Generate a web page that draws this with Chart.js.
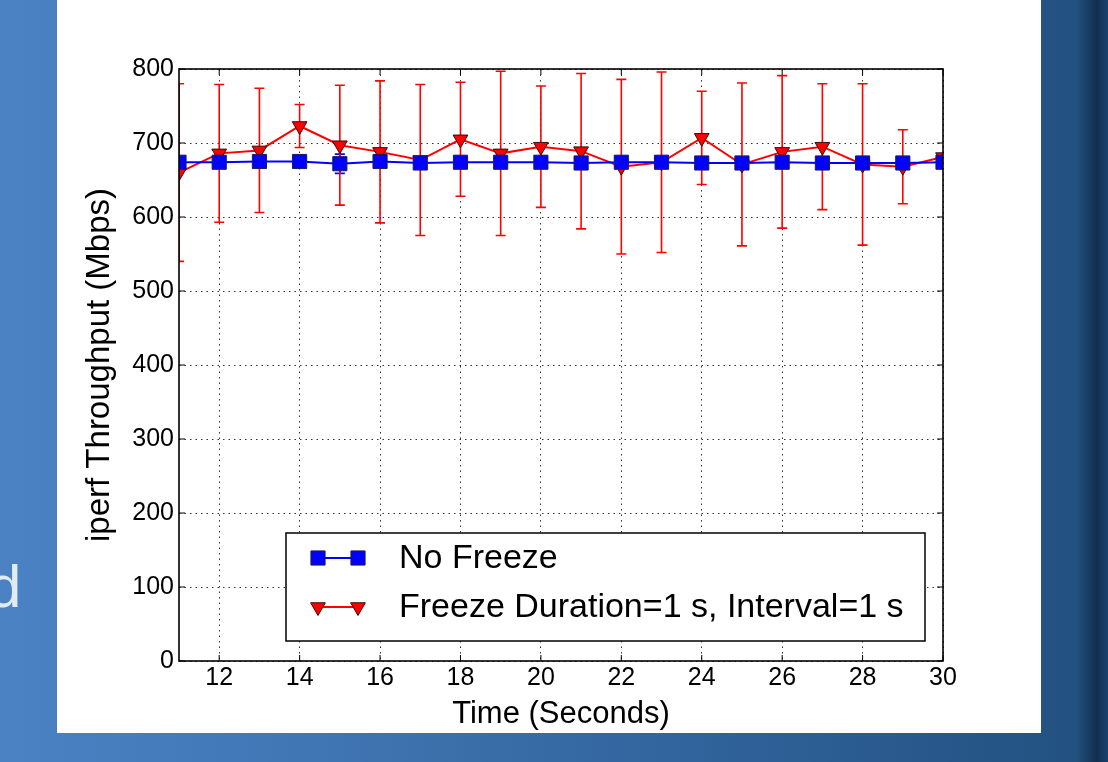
<!DOCTYPE html>
<html>
<head>
<meta charset="utf-8">
<title>iperf Throughput</title>
<script src="https://cdn.jsdelivr.net/npm/chart.js@4.4.0/dist/chart.umd.min.js"></script>
<style>
  html, body { margin: 0; padding: 0; }
  body {
    width: 1108px; height: 762px; overflow: hidden; position: relative;
    background: linear-gradient(to right, #4a82c4 0%, #3f75b2 30%, #30629a 65%, #21507f 100%);
    font-family: "Liberation Sans", Arial, sans-serif;
  }
  #shade {
    position: absolute; left: 1076px; top: 0; width: 32px; height: 762px;
    background: linear-gradient(to right, rgba(8,25,48,0) 0%, rgba(8,25,48,0.6) 65%, rgba(8,25,48,0.25) 100%);
  }
  #slideText { position: absolute; left: -12px; top: 557px; font-size: 60px; line-height: 60px; color: #e2eaf5; }
  #panel { position: absolute; left: 57px; top: 0; width: 984px; height: 733px; background: #fff; }
  #chart { position: absolute; left: 0; top: 0; }
</style>
</head>
<body>
<div id="slideText">d</div>
<div id="shade"></div>
<div id="panel"></div>
<canvas id="chart" width="1108" height="762"></canvas>
<script>
// ==========================
// DATA
// ==========================
const times = [11, 12, 13, 14, 15, 16, 17, 18, 19, 20, 21, 22, 23, 24, 25, 26, 27, 28, 29, 30];
const noFreeze    = [674, 674, 675, 675, 672, 675, 673, 674, 674, 674, 673, 674, 674, 673, 673, 674, 673, 673, 673, 674];
const noFreezeErr = [3, 3, 3, 3, 13, 3, 3, 3, 3, 3, 3, 3, 3, 3, 3, 3, 3, 3, 3, 3];
const freeze      = [660, 686, 690, 723, 697, 688, 677, 705, 686, 695, 689, 668, 674, 707, 671, 688, 695, 671, 668, 681];
const freezeErr   = [120, 93, 84, 29, 81, 96, 102, 77, 111, 82, 105, 118, 122, 63, 110, 103, 85, 109, 50, 0];
const xTicks = [12, 14, 16, 18, 20, 22, 24, 26, 28, 30];
const yTicks = [0, 100, 200, 300, 400, 500, 600, 700, 800];
const seriesLabels = ["No Freeze", "Freeze Duration=1 s, Interval=1 s"];

const FONT = "Liberation Sans";

// ==========================
// PLUGINS
// ==========================
// vertical error bars with caps, under the markers
const errorBars = {
  id: "errorBars",
  beforeDatasetsDraw(chart) {
    const { ctx, chartArea: a, scales: { x, y } } = chart;
    ctx.save();
    ctx.beginPath();
    ctx.rect(a.left, a.top, a.width, a.height);
    ctx.clip();
    chart.data.datasets.forEach(ds => {
      ctx.strokeStyle = ds.borderColor;
      ctx.lineWidth = 1.6;
      ds.data.forEach((p, i) => {
        const e = ds.errors[i];
        if(!e) return;
        const px = x.getPixelForValue(p.x);
        const top = y.getPixelForValue(p.y + e);
        const bot = y.getPixelForValue(p.y - e);
        ctx.beginPath();
        ctx.moveTo(px, top); ctx.lineTo(px, bot);
        ctx.moveTo(px - 5, top); ctx.lineTo(px + 5, top);
        ctx.moveTo(px - 5, bot); ctx.lineTo(px + 5, bot);
        ctx.stroke();
      });
    });
    ctx.restore();
  }
};

// axes frame and inward tick marks (matplotlib look)
const frame = {
  id: "frame",
  afterDatasetsDraw(chart) {
    const { ctx, chartArea: a, scales: { x, y } } = chart;
    ctx.save();
    ctx.strokeStyle = "#000";
    ctx.lineWidth = 1;
    ctx.beginPath();
    xTicks.forEach(v => {
      const px = x.getPixelForValue(v);
      ctx.moveTo(px, a.bottom); ctx.lineTo(px, a.bottom - 6);
      ctx.moveTo(px, a.top); ctx.lineTo(px, a.top + 6);
    });
    yTicks.forEach(v => {
      const py = y.getPixelForValue(v);
      ctx.moveTo(a.left, py); ctx.lineTo(a.left + 6, py);
      ctx.moveTo(a.right, py); ctx.lineTo(a.right - 6, py);
    });
    ctx.stroke();
    ctx.lineWidth = 1.6;
    ctx.strokeRect(a.left, a.top, a.width, a.height);
    ctx.restore();
  }
};

// legend box in the lower part of the plot
const boxLegend = {
  id: "boxLegend",
  afterDraw(chart) {
    const { ctx, chartArea: a } = chart;
    const left = a.left + 107, right = a.right - 18;
    const bottom = a.bottom - 20, top = bottom - 108;
    ctx.save();
    ctx.fillStyle = "#fff";
    ctx.fillRect(left, top, right - left, bottom - top);
    ctx.strokeStyle = "#000";
    ctx.lineWidth = 1.5;
    ctx.strokeRect(left, top, right - left, bottom - top);

    chart.data.datasets.forEach((ds, i) => {
      const rowY = top + 25 + i * 49;
      const x1 = left + 32, x2 = left + 72;
      ctx.strokeStyle = ds.borderColor;
      ctx.lineWidth = ds.borderWidth;
      ctx.beginPath();
      ctx.moveTo(x1, rowY); ctx.lineTo(x2, rowY);
      ctx.stroke();
      const style = {
        pointStyle: ds.pointStyle, radius: ds.pointRadius, rotation: ds.pointRotation || 0,
        borderWidth: ds.pointBorderWidth
      };
      ctx.fillStyle = ds.pointBackgroundColor;
      ctx.strokeStyle = ds.pointBorderColor;
      ctx.lineWidth = ds.pointBorderWidth;
      Chart.helpers.drawPoint(ctx, style, x1, rowY);
      Chart.helpers.drawPoint(ctx, style, x2, rowY);

      ctx.fillStyle = "#000";
      ctx.font = `34px "${FONT}"`;
      ctx.textBaseline = "middle";
      ctx.textAlign = "left";
      ctx.fillText(ds.label, left + 113, rowY + 1);
    });
    ctx.restore();
  }
};

// ==========================
// CHART
// ==========================
const ctx = document.getElementById("chart").getContext("2d");

new Chart(ctx, {
  type: "line",
  data: {
    datasets: [
      {
        label: seriesLabels[0],
        data: times.map((t, i) => ({ x: t, y: noFreeze[i] })),
        errors: noFreezeErr,
        borderColor: "#0000ff",
        borderWidth: 2,
        tension: 0,
        pointStyle: "rect",
        pointRadius: 10,
        pointBackgroundColor: "#0000ff",
        pointBorderColor: "#1c1c50",
        pointBorderWidth: 1
      },
      {
        label: seriesLabels[1],
        data: times.map((t, i) => ({ x: t, y: freeze[i] })),
        errors: freezeErr,
        borderColor: "#ff0000",
        borderWidth: 2,
        tension: 0,
        pointStyle: "triangle",
        pointRotation: 180,
        pointRadius: 8.5,
        pointBackgroundColor: "#ff0000",
        pointBorderColor: "#3a0a0a",
        pointBorderWidth: 1
      }
    ]
  },
  options: {
    responsive: false,
    devicePixelRatio: 1,
    animation: false,
    layout: { padding: { left: 60, top: 69, right: 165, bottom: 29 } },
    plugins: {
      legend: { display: false },
      tooltip: { enabled: false }
    },
    scales: {
      x: {
        type: "linear",
        min: 11,
        max: 30,
        afterBuildTicks: s => { s.ticks = xTicks.map(v => ({ value: v })); },
        afterFit: s => { s.height = 72; },
        grid: { color: "#333", lineWidth: 1, drawTicks: false },
        border: { display: false, dash: [1.5, 4] },
        ticks: { color: "#000", padding: 2, font: { family: FONT, size: 25 }, maxRotation: 0 },
        title: {
          display: true, text: "Time (Seconds)", color: "#000",
          font: { family: FONT, size: 31 }, padding: { top: 0, bottom: 0 }
        }
      },
      y: {
        min: 0,
        max: 800,
        afterBuildTicks: s => { s.ticks = yTicks.map(v => ({ value: v })); },
        afterFit: s => { s.width = 119; },
        grid: { color: "#333", lineWidth: 1, drawTicks: false },
        border: { display: false, dash: [1.5, 4] },
        ticks: { color: "#000", padding: 5, font: { family: FONT, size: 25 } },
        title: {
          display: true, text: "iperf Throughput (Mbps)", color: "#000",
          font: { family: FONT, size: 33 }, padding: { top: 20, bottom: 0 }
        }
      }
    }
  },
  plugins: [errorBars, frame, boxLegend]
});
</script>
</body>
</html>
